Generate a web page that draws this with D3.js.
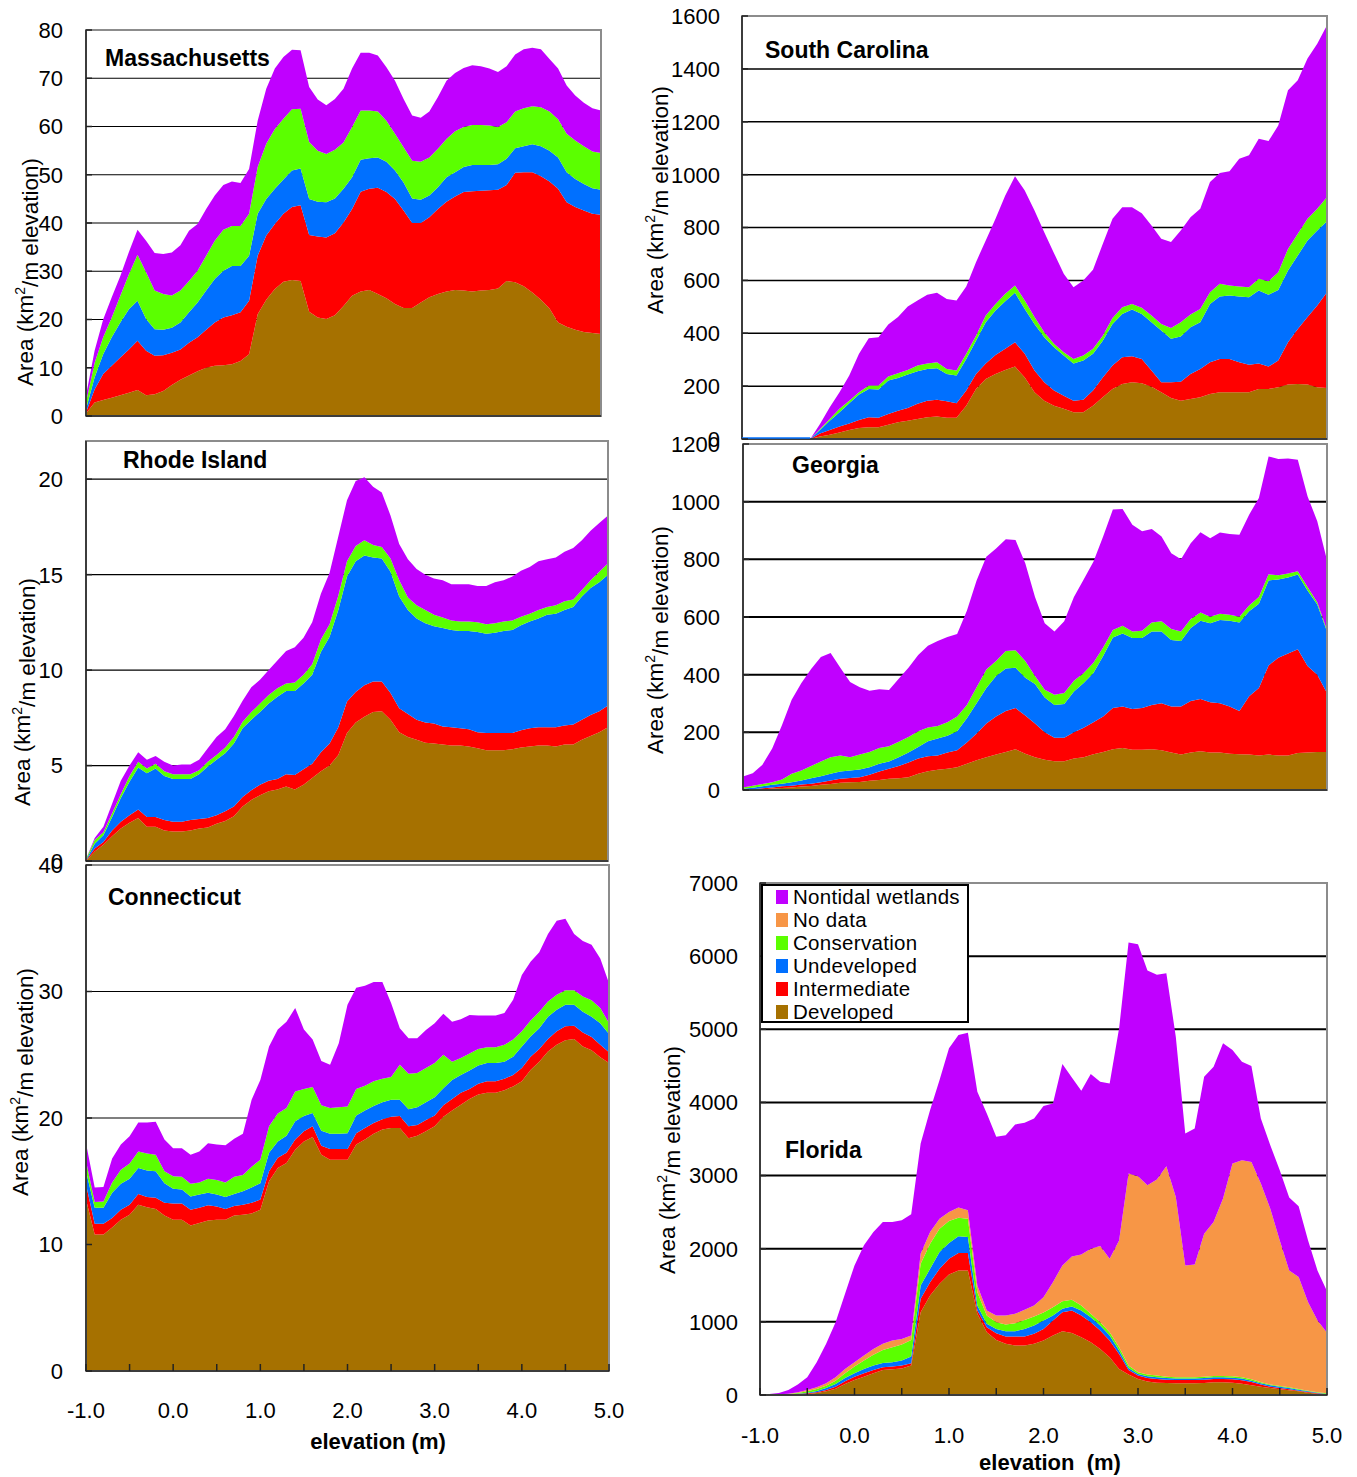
<!DOCTYPE html>
<html><head><meta charset="utf-8">
<script src="https://cdn.jsdelivr.net/npm/d3@7"></script>
<style>
body{margin:0;background:#fff;}
svg{display:block;font-family:"Liberation Sans",Arial,Helvetica,sans-serif;}
</style></head><body>
<svg id="chart" width="1357" height="1477"></svg>
<script>
// ---------- DATA ----------
const elevation = [-1.0,-0.9,-0.8,-0.7,-0.6,-0.5,-0.4,-0.3,-0.2,-0.1,0.0,0.1,0.2,0.3,0.4,0.5,0.6,0.7,0.8,0.9,1.0,1.1,1.2,1.3,1.4,1.5,1.6,1.7,1.8,1.9,2.0,2.1,2.2,2.3,2.4,2.5,2.6,2.7,2.8,2.9,3.0,3.1,3.2,3.3,3.4,3.5,3.6,3.7,3.8,3.9,4.0,4.1,4.2,4.3,4.4,4.5,4.6,4.7,4.8,4.9,5.0];
const xTickLabels = [-1,0,1,2,3,4,5];
const xMinorTicks = [-1,-0.5,0,0.5,1,1.5,2,2.5,3,3.5,4,4.5,5];
const layerNames = ["Developed","Intermediate","Undeveloped","Conservation","No data","Nontidal wetlands"];
const legendOrder = ["Nontidal wetlands","No data","Conservation","Undeveloped","Intermediate","Developed"];

// Upper edge of each stacked band (km2 per m of elevation)
// Massachusetts
const ma_developed    = [0.5,2.8,3.3,3.8,4.3,4.8,5.4,4.3,4.5,5.2,6.4,7.5,8.4,9.3,10,10.4,10.5,10.7,11.4,12.8,21.1,24.1,26.3,27.8,28.2,28,21.6,20.4,20.1,20.9,22.8,24.9,25.8,26.1,25.3,24.4,23.2,22.4,22.4,23.5,24.6,25.3,25.8,26.1,26,25.8,26,26.1,26.4,28,27.7,26.9,25.6,24.1,22.3,19.4,18.5,17.9,17.4,17.2,17];
const ma_intermediate = [0.7,5.5,8.7,10.4,12.1,13.8,15.6,13.5,12.5,12.6,13.1,13.8,15.2,16.3,17.9,19.4,20.4,20.9,21.5,23.9,33.2,37.4,39.8,41.9,43.3,43.7,37.5,37.2,37,37.9,40.1,42.9,46.5,47.1,47.3,46.4,45,42.6,40,40,41.2,42.9,44.4,45.5,46.4,46.6,46.7,46.8,46.9,47.9,50.4,50.5,50.5,49.7,48.6,47.1,44.3,43.3,42.6,41.9,41.7];
const ma_undeveloped  = [1.4,8,12.8,16.3,19.4,22.1,23.9,20.1,18,17.9,18.3,19.4,21.5,23.5,26,28.4,30.1,31.1,31.1,33.2,41.9,45,47.1,49,50.9,51.3,45,44.4,44.3,45.1,47.1,49.5,53.1,53.4,53.6,52.7,50.9,48.4,45.1,44.8,45.7,47.4,49.5,50.5,51.6,52,52,52,52.2,53.3,55.5,55.9,56.3,55.9,55,53.6,50.5,49.1,48.1,47.2,46.9];
const ma_conservation = [2.8,11,16.3,20.4,24.9,29.4,33.4,29.8,26,25.3,25,26,28,30.1,33.2,36.3,38.6,39.4,39.4,41.9,51.6,56.4,59.5,61.6,63.6,63.7,56.8,55,54.3,55.2,56.7,59.9,63.3,63.3,63.1,61.2,58.5,55.7,52.9,52.7,53.6,55.4,57.4,59,59.9,60.3,60.3,60.2,59.9,60.9,63.1,63.8,64.2,64,63.1,61.5,58.5,57.1,55.9,54.8,54.5];
const ma_wetlands     = [4.2,13.5,20,24.6,29,34,38.6,36.3,33.8,33.6,33.9,35.4,38.4,39.8,42.9,45.7,47.9,48.6,48.3,51.2,61.2,67.8,72,74.4,75.9,75.8,68.2,65.6,64.4,65.7,67.8,72,75.3,75.3,74.7,72.3,69.5,65.7,62.3,61.8,63.1,66.1,69.5,71.1,72.1,72.7,72.5,72,71.3,72.5,74.9,76,76.3,76,74,72,68.5,66.4,64.9,63.8,63.3];
const ma_yTicks = [0,10,20,30,40,50,60,70,80];

// South Carolina
const sc_developed    = [0,0,0,0,0,0,0,0,9,16,25,34,42,44,44,54,63,69,76,82,85,80,80,126,189,227,246,261,274,233,177,145,126,114,101,101,126,158,189,208,215,211,198,177,155,145,151,158,170,177,177,177,177,189,189,196,206,208,206,196,193];
const sc_intermediate = [0,0,0,0,0,0,0,0,21,34,47,59,72,82,80,95,107,117,133,145,148,143,135,183,246,286,318,341,366,322,259,215,183,164,145,148,183,233,278,309,313,303,259,215,215,217,246,265,290,303,303,290,281,286,274,297,366,416,461,505,555];
const sc_undeveloped  = [0,0,0,0,0,0,0,0,34,69,101,135,168,189,187,221,231,244,256,265,268,246,240,303,372,442,486,521,553,492,435,385,347,316,286,297,322,372,435,473,490,473,442,410,379,388,423,442,511,539,543,539,536,562,546,564,637,694,751,789,824];
const sc_conservation = [0,0,0,0,0,0,0,0,38,76,114,145,177,202,202,236,249,261,278,286,290,265,259,322,391,467,511,549,581,524,461,404,360,328,303,316,341,391,458,498,511,496,467,435,420,442,471,492,555,587,581,577,574,606,597,631,719,776,833,871,915];
const sc_wetlands     = [0,0,0,0,0,0,0,0,57,120,177,240,322,381,385,433,461,501,524,546,553,530,524,577,669,751,833,921,994,940,864,782,703,625,574,600,640,738,833,877,877,854,808,757,745,789,839,871,972,1006,1013,1060,1073,1136,1127,1186,1319,1357,1439,1495,1565];
const sc_yTicks = [0,200,400,600,800,1000,1200,1400,1600];

// Rhode Island
const ri_developed    = [0,0.5,0.85,1.3,1.7,2.0,2.25,1.8,1.8,1.6,1.55,1.55,1.6,1.7,1.75,1.95,2.1,2.35,2.85,3.2,3.45,3.65,3.75,3.9,3.75,4.0,4.35,4.7,5.0,5.55,6.7,7.25,7.55,7.8,7.85,7.4,6.75,6.5,6.35,6.2,6.15,6.1,6.05,6.05,6.0,5.9,5.8,5.8,5.8,5.85,5.95,6.0,6.05,6.05,6.0,6.1,6.1,6.35,6.55,6.75,7.0];
const ri_intermediate = [0.03,0.65,1.0,1.6,2.05,2.4,2.7,2.3,2.3,2.15,2.05,2.05,2.15,2.2,2.25,2.4,2.6,2.85,3.35,3.7,4.0,4.2,4.3,4.55,4.5,4.8,5.1,5.7,6.15,7.0,8.35,8.85,9.2,9.4,9.4,8.8,8.0,7.7,7.4,7.25,7.2,7.05,7.0,6.95,6.9,6.75,6.7,6.7,6.7,6.7,6.85,6.95,7.0,7.0,7.0,7.1,7.15,7.4,7.65,7.85,8.15];
const ri_undeveloped  = [0.05,0.9,1.35,2.3,3.3,4.15,4.9,4.6,4.85,4.45,4.3,4.3,4.3,4.55,4.95,5.3,5.65,6.15,6.95,7.4,7.8,8.25,8.6,8.9,8.9,9.3,9.75,10.95,11.75,13.15,14.9,15.7,16.0,15.9,15.85,15.15,13.85,13.15,12.7,12.45,12.3,12.2,12.1,12.05,12.05,12.0,11.9,11.95,12.05,12.1,12.35,12.55,12.7,12.9,12.95,13.15,13.3,13.85,14.3,14.6,15.0];
const ri_conservation = [0.1,1.1,1.5,2.5,3.5,4.45,5.2,4.85,5.1,4.7,4.55,4.55,4.55,4.75,5.2,5.55,5.95,6.5,7.3,7.8,8.25,8.7,9.05,9.3,9.35,9.75,10.3,11.6,12.4,13.9,15.7,16.5,16.8,16.55,16.45,15.85,14.7,13.8,13.4,13.15,12.9,12.75,12.6,12.55,12.55,12.5,12.4,12.45,12.55,12.6,12.8,12.95,13.15,13.3,13.4,13.6,13.7,14.2,14.7,15.15,15.6];
const ri_wetlands     = [0.1,1.2,1.8,3.0,4.2,5.0,5.7,5.3,5.5,5.2,5.0,5.06,5.06,5.3,5.9,6.5,6.9,7.6,8.4,9.1,9.5,10.0,10.5,11.0,11.2,11.7,12.5,14.0,15.1,17.0,18.9,19.9,20.1,19.6,19.3,18.1,16.6,15.8,15.3,15.0,14.8,14.7,14.5,14.5,14.5,14.4,14.4,14.6,14.7,14.9,15.2,15.4,15.7,15.8,15.9,16.2,16.4,16.8,17.3,17.7,18.1];
const ri_yTicks = [0,5,10,15,20];

// Georgia
const ga_developed    = [0,1,2,5,7,9,12,14,18,21,25,27,28,32,35,39,41,44,56,65,70,74,79,91,103,114,123,132,141,126,114,105,100,100,109,114,124,132,141,146,140,140,141,138,130,123,130,134,130,130,126,124,123,120,123,120,120,128,130,132,132];
const ga_intermediate = [1,3,6,9,13,15,19,22,27,33,39,42,44,53,64,74,83,95,109,117,120,130,138,165,196,231,255,274,284,258,231,200,181,181,200,216,235,255,284,290,281,284,295,301,290,290,309,316,304,301,290,274,325,354,432,459,473,488,430,400,336];
const ga_undeveloped  = [4,8,13,18,22,27,33,41,48,56,64,68,71,79,91,99,114,130,149,169,179,188,204,249,301,354,395,421,424,389,368,321,295,298,342,371,406,465,529,543,527,527,550,550,520,517,562,587,578,590,587,581,620,646,727,730,737,747,692,643,550];
const ga_conservation = [9,15,21,27,36,56,68,83,99,114,120,114,123,132,146,152,167,184,204,217,222,235,255,295,356,418,447,482,485,447,395,348,330,336,379,406,441,494,555,570,550,552,581,585,558,550,593,616,601,611,608,601,640,669,748,745,751,759,704,651,555];
const ga_wetlands     = [47,58,88,144,225,313,371,420,461,475,424,375,356,344,349,347,386,424,468,500,517,531,541,622,727,809,838,870,867,786,669,578,550,585,669,730,792,879,973,975,920,897,905,879,821,800,856,894,873,893,888,885,955,1013,1157,1148,1150,1145,1019,932,797];
const ga_yTicks = [0,200,400,600,800,1000,1200];

// Connecticut
const ct_developed    = [13.55,10.8,10.8,11.35,11.95,12.35,13.15,12.95,12.8,12.3,11.95,11.95,11.5,11.7,11.9,11.95,11.95,12.3,12.35,12.45,12.75,15.0,16.05,16.45,17.5,18.15,18.5,17.1,16.7,16.7,16.7,17.9,18.3,18.75,19.1,19.2,19.2,18.4,18.6,18.95,19.35,20.1,20.6,21.05,21.5,21.85,22.0,22.0,22.2,22.5,22.9,23.8,24.45,25.25,25.8,26.15,26.25,25.65,25.35,24.8,24.35];
const ct_intermediate = [14.75,11.65,11.65,12.1,12.75,13.15,14.0,13.75,13.7,13.3,13.25,13.25,12.75,12.9,13.1,13.0,12.8,13.05,13.15,13.3,13.55,15.8,16.85,17.25,18.3,18.95,19.35,17.8,17.55,17.55,17.55,18.8,19.2,19.6,19.9,20.1,20.15,19.35,19.45,19.85,20.2,21.0,21.5,22.0,22.3,22.7,22.9,22.9,23.1,23.4,23.95,24.85,25.45,26.25,26.85,27.25,27.3,26.75,26.4,25.8,25.2];
const ct_undeveloped  = [15.8,12.9,12.9,14.1,14.8,15.2,16.05,15.85,15.8,14.85,14.4,14.35,13.8,13.95,14.1,13.95,13.75,14.0,14.2,14.5,14.85,17.25,18.15,18.6,19.75,20.15,20.4,19.0,18.75,18.75,18.8,20.2,20.6,20.95,21.25,21.45,21.45,20.7,20.85,21.25,21.65,22.35,23.0,23.4,23.75,24.15,24.35,24.35,24.45,24.85,25.65,26.45,27.1,28.0,28.55,28.95,28.95,28.4,28.0,27.5,26.65];
const ct_conservation = [16.6,13.35,13.4,14.9,15.9,16.4,17.35,17.2,17.1,15.8,15.4,15.35,14.8,14.9,15.2,15.1,14.9,15.35,15.5,16.15,16.7,19.35,20.35,20.8,22.1,22.3,22.45,21.0,20.8,20.85,20.9,22.3,22.55,22.9,23.1,23.25,24.2,23.5,23.55,23.95,24.35,25.0,24.45,24.75,25.1,25.45,25.6,25.6,25.8,26.2,26.85,27.7,28.4,29.2,29.75,30.1,30.1,29.6,29.3,28.7,27.5];
const ct_wetlands     = [18.0,14.5,14.55,16.8,17.9,18.55,19.65,19.65,19.7,18.3,17.6,17.6,17.1,17.35,18.0,17.9,17.85,18.35,18.75,21.45,23.0,25.65,27.0,27.6,28.7,27.0,26.2,24.5,24.2,25.9,28.95,30.3,30.45,30.75,30.75,29.1,27.1,26.3,26.3,26.95,27.5,28.25,27.6,27.8,28.15,28.1,28.1,28.1,28.3,29.35,31.3,32.35,33.1,34.55,35.6,35.75,34.55,34.0,33.7,32.6,30.65];
const ct_yTicks = [0,10,20,30,40];

// Florida
const fl_developed    = [0,1,2,5,9,14,27,50,87,151,205,251,297,342,352,361,402,1132,1361,1520,1648,1703,1703,1110,858,753,699,676,676,699,744,813,872,849,790,721,630,516,356,279,219,183,169,164,160,160,160,164,174,174,169,155,132,114,96,78,64,50,32,18,9];
const fl_intermediate = [0,1,3,7,14,23,37,68,114,187,251,297,342,379,388,402,434,1315,1543,1726,1863,1941,1941,1155,927,845,799,799,799,836,904,1018,1132,1155,1087,995,881,744,562,342,265,233,219,210,205,205,205,210,219,219,215,201,178,142,114,96,78,59,41,23,9];
const fl_undeveloped  = [0,2,5,9,18,32,55,96,151,233,297,356,402,438,447,470,525,1498,1726,1954,2078,2169,2160,1224,973,904,872,872,904,950,1018,1087,1178,1210,1155,1064,950,813,607,370,288,256,242,233,224,224,224,233,242,242,237,224,196,160,132,114,96,73,50,32,14];
const fl_conservation = [0,4,8,14,27,50,82,128,196,297,388,470,552,616,653,689,753,1794,2068,2274,2379,2425,2411,1406,1087,995,963,982,1027,1073,1128,1201,1283,1301,1224,1110,995,858,653,402,310,279,265,251,242,242,242,251,260,260,256,242,215,174,142,123,105,82,59,37,23];
const fl_nodata       = [0,5,9,18,37,68,105,160,242,356,447,539,630,699,744,767,813,1931,2228,2411,2502,2562,2525,1498,1155,1087,1087,1110,1164,1224,1338,1543,1772,1895,1922,2000,2036,1863,2114,3027,2991,2867,2945,3128,2708,1772,1785,2205,2365,2685,3164,3210,3187,2890,2548,2114,1703,1612,1269,1018,850];
const fl_wetlands     = [0,14,27,68,142,242,447,699,995,1383,1772,2046,2228,2365,2365,2388,2470,3438,3895,4306,4740,4922,4954,4146,3849,3530,3552,3698,3721,3781,3950,3986,4525,4342,4160,4388,4283,4260,5013,6187,6164,5803,5744,5767,4899,3575,3644,4351,4488,4808,4717,4557,4498,3781,3415,3073,2699,2580,2114,1700,1420];
const fl_yTicks = [0,1000,2000,3000,4000,5000,6000,7000];

// ---------- STYLE / LAYOUT ----------
const colors = {
  "Developed":"#A67100",
  "Intermediate":"#FF0000",
  "Undeveloped":"#0070FF",
  "Conservation":"#5BFF00",
  "No data":"#F79646",
  "Nontidal wetlands":"#C000FF"
};

const panels = [
  {title:"Massachusetts", bands:[["Developed",ma_developed],["Intermediate",ma_intermediate],["Undeveloped",ma_undeveloped],["Conservation",ma_conservation],["Nontidal wetlands",ma_wetlands]],
   yTicks:ma_yTicks, yMax:80, x0:86, x1:601, yTop:30, yBase:416, labelX:63, tX:105, tY:66, atX:25, atY:272, grid:1.2, xAxis:false},
  {title:"South Carolina", bands:[["Developed",sc_developed],["Intermediate",sc_intermediate],["Undeveloped",sc_undeveloped],["Conservation",sc_conservation],["Nontidal wetlands",sc_wetlands]],
   yTicks:sc_yTicks, yMax:1600, x0:742, x1:1327, yTop:16, yBase:439, labelX:720, tX:765, tY:58, atX:655, atY:200, grid:1.5, xAxis:false, zeroLine:true},
  {title:"Rhode Island", bands:[["Developed",ri_developed],["Intermediate",ri_intermediate],["Undeveloped",ri_undeveloped],["Conservation",ri_conservation],["Nontidal wetlands",ri_wetlands]],
   yTicks:ri_yTicks, yMax:22, x0:86, x1:608, yTop:441, yBase:861, labelX:63, tX:123, tY:468, atX:22, atY:692, grid:1.2, xAxis:false},
  {title:"Georgia", bands:[["Developed",ga_developed],["Intermediate",ga_intermediate],["Undeveloped",ga_undeveloped],["Conservation",ga_conservation],["Nontidal wetlands",ga_wetlands]],
   yTicks:ga_yTicks, yMax:1200, x0:743, x1:1327, yTop:444, yBase:790, labelX:720, tX:792, tY:473, atX:655, atY:640, grid:2, xAxis:false},
  {title:"Connecticut", bands:[["Developed",ct_developed],["Intermediate",ct_intermediate],["Undeveloped",ct_undeveloped],["Conservation",ct_conservation],["Nontidal wetlands",ct_wetlands]],
   yTicks:ct_yTicks, yMax:40, x0:86, x1:609, yTop:865, yBase:1371, labelX:63, tX:108, tY:905, atX:20, atY:1082, grid:1.2, xAxis:true, xLabelY:1410, xTitle:"elevation (m)", xTitleX:378, xTitleY:1441},
  {title:"Florida", bands:[["Developed",fl_developed],["Intermediate",fl_intermediate],["Undeveloped",fl_undeveloped],["Conservation",fl_conservation],["No data",fl_nodata],["Nontidal wetlands",fl_wetlands]],
   yTicks:fl_yTicks, yMax:7000, x0:760, x1:1327, yTop:883, yBase:1395, labelX:738, tX:785, tY:1158, atX:667, atY:1160, grid:2, xAxis:true, xLabelY:1435, xTitle:"elevation\u00a0\u00a0(m)", xTitleX:1050, xTitleY:1462, legend:true}
];

const svg = d3.select("#chart");
svg.append("rect").attr("width",1357).attr("height",1477).attr("fill","#fff");

panels.forEach(p => {
  const g = svg.append("g");
  const x = d3.scaleLinear().domain([-1,5]).range([p.x0,p.x1]);
  const y = d3.scaleLinear().domain([0,p.yMax]).range([p.yBase,p.yTop]);

  g.append("rect").attr("x",p.x0).attr("y",p.yTop).attr("width",p.x1-p.x0).attr("height",p.yBase-p.yTop).attr("fill","#fff");

  // gridlines (behind areas)
  g.append("g").selectAll("line").data(p.yTicks.filter(t=>t>0)).join("line")
    .attr("x1",p.x0).attr("x2",p.x1).attr("y1",d=>y(d)).attr("y2",d=>y(d))
    .attr("stroke","#000").attr("stroke-width",p.grid);

  // stacked bands
  p.bands.forEach((b,bi) => {
    const lower = bi===0 ? null : p.bands[bi-1][1];
    const upper = b[1];
    const area = d3.area()
      .x((d,i)=>x(elevation[i]))
      .y0((d,i)=> lower ? y(lower[i]) : y(0))
      .y1((d,i)=> y(upper[i]));
    g.append("path").datum(upper).attr("d",area).attr("fill",colors[b[0]]).attr("stroke","none");
  });

  // frame
  g.append("rect").attr("x",p.x0).attr("y",p.yTop).attr("width",p.x1-p.x0).attr("height",p.yBase-p.yTop)
    .attr("fill","none").attr("stroke","#8c8c8c").attr("stroke-width",2);
  // axis lines
  g.append("line").attr("x1",p.x0).attr("x2",p.x0).attr("y1",p.yTop).attr("y2",p.yBase).attr("stroke","#222").attr("stroke-width",1.5);
  g.append("line").attr("x1",p.x0).attr("x2",p.x1).attr("y1",p.yBase).attr("y2",p.yBase).attr("stroke","#222").attr("stroke-width",1.5);

  // thin outline of the zero-valued part of the stack (visible in South Carolina)
  if (p.zeroLine) {
    const zeroIdx = elevation.map((e,i)=>i).filter(i=>p.bands[p.bands.length-1][1][i]===0);
    const line = d3.line().x(i=>x(elevation[i])).y(i=>y(p.bands[2][1][i])-1);
    g.append("path").datum(zeroIdx).attr("d",line).attr("fill","none").attr("stroke",colors["Undeveloped"]).attr("stroke-width",1.5);
  }

  // y ticks (inward) + labels
  g.append("g").selectAll("line").data(p.yTicks).join("line")
    .attr("x1",p.x0).attr("x2",p.x0+6).attr("y1",d=>y(d)).attr("y2",d=>y(d))
    .attr("stroke","#222").attr("stroke-width",1.5);
  g.append("g").selectAll("text").data(p.yTicks).join("text")
    .attr("x",p.labelX).attr("y",d=>y(d)).attr("dy","0.36em")
    .attr("text-anchor","end").attr("font-size",22).attr("fill","#000").text(d=>d);

  // x axis
  if (p.xAxis) {
    g.append("g").selectAll("line").data(xMinorTicks).join("line")
      .attr("x1",d=>x(d)).attr("x2",d=>x(d)).attr("y1",p.yBase).attr("y2",p.yBase-7)
      .attr("stroke","#222").attr("stroke-width",1.5);
    g.append("g").selectAll("text").data(xTickLabels).join("text")
      .attr("x",d=>x(d)).attr("y",p.xLabelY).attr("dy","0.36em")
      .attr("text-anchor","middle").attr("font-size",22).attr("fill","#000").text(d=>d.toFixed(1));
    g.append("text").attr("x",p.xTitleX).attr("y",p.xTitleY).attr("dy","0.36em")
      .attr("text-anchor","middle").attr("font-size",22).attr("font-weight","bold").text(p.xTitle);
  }

  // y axis title
  const yt = g.append("text").attr("transform",`translate(${p.atX},${p.atY}) rotate(-90)`)
    .attr("text-anchor","middle").attr("dy","0.36em").attr("font-size",22.5).attr("fill","#000");
  yt.append("tspan").text("Area (km");
  yt.append("tspan").attr("font-size",14).attr("dy","-0.6em").text("2");
  yt.append("tspan").attr("dy","0.6em").text("/m elevation)");

  // panel title
  g.append("text").attr("x",p.tX).attr("y",p.tY).attr("font-size",23).attr("font-weight","bold").attr("fill","#000").text(p.title);

  // legend
  if (p.legend) {
    const lg = g.append("g");
    lg.append("rect").attr("x",762).attr("y",885).attr("width",206).attr("height",137)
      .attr("fill","#fff").attr("stroke","#000").attr("stroke-width",2);
    legendOrder.forEach((name,i) => {
      const cy = 897 + i*23;
      lg.append("rect").attr("x",776).attr("y",cy-7).attr("width",12).attr("height",14).attr("fill",colors[name]);
      lg.append("text").attr("x",793).attr("y",cy).attr("dy","0.36em").attr("font-size",20.5)
        .attr("letter-spacing",0.3).attr("fill","#000").text(name);
    });
  }
});
</script>
</body></html>
